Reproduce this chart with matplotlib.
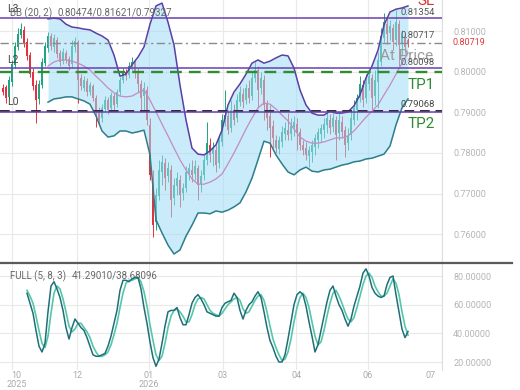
import matplotlib
matplotlib.use("Agg")
import matplotlib.pyplot as plt
import matplotlib.transforms as mtransforms
from matplotlib.lines import Line2D
from matplotlib.ticker import FormatStrFormatter
import numpy as np

plt.rcParams['font.family'] = ['Roboto', 'DejaVu Sans']

# ---------------- data ----------------
opens = [0.7960, 0.7962, 0.7938, 0.7975, 0.8017, 0.8061, 0.8090, 0.8103, 0.8073, 0.8041,
         0.7999, 0.7967, 0.7933, 0.7967, 0.8021, 0.8058, 0.8088, 0.8061, 0.8078, 0.8046,
         0.8026, 0.8046, 0.8031, 0.8019, 0.8061, 0.8073, 0.7985, 0.7960, 0.7977, 0.7950,
         0.7965, 0.7935, 0.7906, 0.7886, 0.7908, 0.7930, 0.7911, 0.7940, 0.7920, 0.7950,
         0.7980, 0.7999, 0.7992, 0.8012, 0.8024, 0.7999, 0.7970, 0.7940, 0.7955, 0.7869,
         0.7738, 0.7630, 0.7694, 0.7753, 0.7775, 0.7743, 0.7758, 0.7689, 0.7719, 0.7733,
         0.7701, 0.7714, 0.7748, 0.7758, 0.7748, 0.7763, 0.7723, 0.7746, 0.7783, 0.7820,
         0.7797, 0.7807, 0.7775, 0.7827, 0.7876, 0.7891, 0.7861, 0.7901, 0.7886, 0.7925,
         0.7945, 0.7930, 0.7960, 0.7940, 0.7985, 0.8004, 0.7960, 0.7980, 0.7920, 0.7891,
         0.7866, 0.7832, 0.7810, 0.7827, 0.7847, 0.7856, 0.7847, 0.7864, 0.7871, 0.7852,
         0.7820, 0.7812, 0.7792, 0.7802, 0.7815, 0.7832, 0.7847, 0.7856, 0.7869, 0.7881,
         0.7864, 0.7881, 0.7849, 0.7876, 0.7856, 0.7824, 0.7844, 0.7881, 0.7906, 0.7935,
         0.7967, 0.7935, 0.7970, 0.7985, 0.7940, 0.7975, 0.8024, 0.8083, 0.8117, 0.8095,
         0.8108, 0.8078, 0.8117, 0.8068, 0.8086, 0.8078]
closes = [0.7950, 0.7935, 0.7980, 0.8019, 0.8063, 0.8093, 0.8105, 0.8068, 0.8039, 0.7994,
          0.7965, 0.7930, 0.7970, 0.8024, 0.8063, 0.8088, 0.8063, 0.8083, 0.8044, 0.8024,
          0.8049, 0.8029, 0.8014, 0.8063, 0.8076, 0.7980, 0.7965, 0.7980, 0.7950, 0.7967,
          0.7935, 0.7901, 0.7881, 0.7911, 0.7930, 0.7906, 0.7943, 0.7918, 0.7950, 0.7980,
          0.7999, 0.7989, 0.8014, 0.8024, 0.7999, 0.7970, 0.7935, 0.7960, 0.7881, 0.7746,
          0.7622, 0.7696, 0.7758, 0.7778, 0.7738, 0.7763, 0.7684, 0.7721, 0.7738, 0.7696,
          0.7714, 0.7753, 0.7763, 0.7746, 0.7768, 0.7721, 0.7743, 0.7783, 0.7824, 0.7795,
          0.7812, 0.7770, 0.7832, 0.7881, 0.7893, 0.7856, 0.7906, 0.7881, 0.7930, 0.7950,
          0.7925, 0.7960, 0.7935, 0.7985, 0.8004, 0.7955, 0.7985, 0.7918, 0.7886, 0.7861,
          0.7837, 0.7812, 0.7832, 0.7852, 0.7861, 0.7844, 0.7866, 0.7876, 0.7852, 0.7820,
          0.7807, 0.7795, 0.7807, 0.7820, 0.7837, 0.7852, 0.7861, 0.7871, 0.7886, 0.7861,
          0.7886, 0.7844, 0.7881, 0.7852, 0.7820, 0.7842, 0.7886, 0.7911, 0.7935, 0.7970,
          0.7930, 0.7975, 0.7989, 0.7935, 0.7980, 0.8029, 0.8088, 0.8122, 0.8093, 0.8113,
          0.8073, 0.8122, 0.8066, 0.8088, 0.8061, 0.80719]
highs = [0.7970, 0.7967, 0.7989, 0.8029, 0.8073, 0.8108, 0.8120, 0.8113, 0.8083, 0.8049,
         0.8009, 0.7980, 0.7980, 0.8034, 0.8073, 0.8098, 0.8095, 0.8093, 0.8086, 0.8053,
         0.8058, 0.8053, 0.8039, 0.8078, 0.8086, 0.8078, 0.7994, 0.7989, 0.7985, 0.7975,
         0.7970, 0.7943, 0.7913, 0.7920, 0.7940, 0.7938, 0.7950, 0.7948, 0.7957, 0.7987,
         0.8009, 0.8007, 0.8024, 0.8036, 0.8029, 0.8009, 0.7980, 0.7975, 0.7965, 0.7886,
         0.7758, 0.7714, 0.7783, 0.7795, 0.7787, 0.7778, 0.7770, 0.7738, 0.7753, 0.7746,
         0.7726, 0.7768, 0.7775, 0.7783, 0.7783, 0.7770, 0.7758, 0.7795, 0.7876, 0.7837,
         0.7827, 0.7820, 0.7844, 0.7896, 0.7955, 0.7906, 0.7930, 0.7920, 0.7945, 0.7965,
         0.7960, 0.7970, 0.7980, 0.7999, 0.8024, 0.8014, 0.7999, 0.7992, 0.7930, 0.7918,
         0.7881, 0.7844, 0.7842, 0.7866, 0.7876, 0.7898, 0.7886, 0.7891, 0.7886, 0.7861,
         0.7832, 0.7827, 0.7817, 0.7832, 0.7847, 0.7861, 0.7871, 0.7886, 0.7901, 0.7896,
         0.7901, 0.7891, 0.7901, 0.7891, 0.7866, 0.7861, 0.7906, 0.7930, 0.7945, 0.7989,
         0.7980, 0.7994, 0.8004, 0.7994, 0.8004, 0.8049, 0.8108, 0.8145, 0.8132, 0.8127,
         0.8117, 0.8152, 0.8127, 0.8103, 0.8095, 0.8083]
lows = [0.7943, 0.7923, 0.7933, 0.7965, 0.8009, 0.8053, 0.8083, 0.8061, 0.8029, 0.7987,
        0.7955, 0.7874, 0.7920, 0.7960, 0.8014, 0.8049, 0.8053, 0.8049, 0.8034, 0.8014,
        0.8019, 0.8021, 0.8004, 0.8009, 0.8049, 0.7923, 0.7955, 0.7952, 0.7940, 0.7943,
        0.7928, 0.7864, 0.7869, 0.7876, 0.7901, 0.7896, 0.7903, 0.7901, 0.7913, 0.7943,
        0.7972, 0.7980, 0.7985, 0.8004, 0.7985, 0.7950, 0.7901, 0.7906, 0.7869, 0.7733,
        0.7593, 0.7610, 0.7684, 0.7721, 0.7709, 0.7728, 0.7642, 0.7672, 0.7696, 0.7667,
        0.7684, 0.7704, 0.7733, 0.7728, 0.7733, 0.7684, 0.7704, 0.7733, 0.7770, 0.7778,
        0.7768, 0.7753, 0.7763, 0.7817, 0.7866, 0.7847, 0.7852, 0.7869, 0.7876, 0.7916,
        0.7911, 0.7920, 0.7923, 0.7930, 0.7975, 0.7911, 0.7945, 0.7881, 0.7856, 0.7790,
        0.7812, 0.7800, 0.7797, 0.7815, 0.7832, 0.7832, 0.7832, 0.7842, 0.7807, 0.7807,
        0.7795, 0.7783, 0.7765, 0.7778, 0.7795, 0.7812, 0.7827, 0.7837, 0.7849, 0.7847,
        0.7852, 0.7783, 0.7832, 0.7837, 0.7790, 0.7807, 0.7832, 0.7869, 0.7881, 0.7925,
        0.7913, 0.7923, 0.7955, 0.7906, 0.7918, 0.7911, 0.8014, 0.8073, 0.8068, 0.8078,
        0.8053, 0.8063, 0.8014, 0.8041, 0.8046, 0.8061]

# Bollinger band (20, 2), one value every second bar
bb_upper = [0.8130, 0.8132, 0.8130, 0.8117, 0.8110, 0.8108, 0.8105, 0.8103, 0.8095, 0.8088,
            0.8078, 0.8041, 0.7989, 0.7994, 0.8017, 0.8036, 0.8061, 0.8117, 0.8162, 0.8169,
            0.8122, 0.8066, 0.7967, 0.7881, 0.7812, 0.7797, 0.7795, 0.7805, 0.7820, 0.7856,
            0.7918, 0.7950, 0.7970, 0.7994, 0.8021, 0.8029, 0.8021, 0.8026, 0.8034, 0.8041,
            0.8039, 0.8009, 0.7955, 0.7918, 0.7898, 0.7893, 0.7893, 0.7903, 0.7898, 0.7898,
            0.7901, 0.7916, 0.7943, 0.7985, 0.8014, 0.8053, 0.8115, 0.8147, 0.8154, 0.8157,
            0.8162]
bb_mid = [0.8014, 0.8024, 0.8029, 0.8029, 0.8026, 0.8021, 0.8014, 0.8004, 0.7989, 0.7975,
          0.7960, 0.7948, 0.7940, 0.7938, 0.7940, 0.7948, 0.7955, 0.7930, 0.7901, 0.7871,
          0.7842, 0.7812, 0.7783, 0.7758, 0.7736, 0.7723, 0.7723, 0.7728, 0.7736, 0.7748,
          0.7773, 0.7800, 0.7829, 0.7859, 0.7886, 0.7911, 0.7923, 0.7920, 0.7908, 0.7893,
          0.7879, 0.7859, 0.7839, 0.7829, 0.7824, 0.7824, 0.7827, 0.7832, 0.7837, 0.7837,
          0.7842, 0.7854, 0.7871, 0.7888, 0.7903, 0.7918, 0.7943, 0.7967, 0.7994, 0.8021,
          0.8046]
bb_lower = [0.7925, 0.7933, 0.7935, 0.7938, 0.7938, 0.7933, 0.7928, 0.7920, 0.7891, 0.7854,
            0.7839, 0.7842, 0.7854, 0.7854, 0.7849, 0.7852, 0.7856, 0.7795, 0.7635, 0.7603,
            0.7573, 0.7551, 0.7561, 0.7595, 0.7622, 0.7652, 0.7652, 0.7650, 0.7657, 0.7654,
            0.7659, 0.7667, 0.7677, 0.7704, 0.7738, 0.7783, 0.7829, 0.7824, 0.7795, 0.7773,
            0.7753, 0.7746, 0.7758, 0.7765, 0.7755, 0.7753, 0.7758, 0.7760, 0.7765, 0.7770,
            0.7773, 0.7778, 0.7780, 0.7785, 0.7787, 0.7792, 0.7797, 0.7817, 0.7869, 0.7911,
            0.7933]

# Full stochastic (5, 8, 3)
stoch_k = [68, 61, 54, 42, 31, 27, 33, 55, 73, 76, 71, 65, 56, 44, 36, 44, 50, 47, 44, 42,
           37, 31, 25, 24, 24, 25, 26, 31, 38, 47, 56, 70, 77, 77, 76, 78, 79, 79, 71, 58,
           47, 34, 23, 17, 22, 33, 45, 55, 56, 56, 58, 51, 46, 46, 53, 61, 65, 67, 64, 60,
           55, 54, 53, 52, 52, 58, 61, 62, 63, 68, 65, 56, 50, 56, 60, 62, 66, 69, 65, 55,
           44, 35, 30, 24, 20, 20, 25, 36, 48, 60, 67, 69, 67, 59, 48, 38, 27, 32, 42, 52,
           62, 70, 73, 66, 60, 56, 50, 45, 50, 59, 66, 73, 82, 85, 80, 72, 68, 66, 65, 66,
           74, 79, 80, 67, 55, 43, 37, 41.29]
stoch_d = [70, 66, 61, 52, 42, 33, 30, 38, 54, 68, 73, 71, 64, 55, 45, 41, 43, 47, 47, 44,
           41, 37, 31, 27, 24, 24, 25, 27, 32, 39, 47, 58, 68, 75, 77, 77, 78, 79, 76, 69,
           59, 46, 35, 25, 21, 24, 33, 44, 52, 56, 57, 55, 52, 48, 48, 53, 60, 64, 65, 64,
           60, 56, 54, 53, 52, 54, 57, 60, 62, 64, 65, 63, 57, 54, 55, 59, 63, 66, 67, 63,
           55, 45, 36, 30, 25, 21, 22, 27, 36, 48, 58, 65, 68, 65, 58, 48, 38, 32, 34, 42,
           52, 61, 68, 70, 66, 61, 55, 50, 48, 51, 58, 66, 74, 80, 82, 79, 73, 69, 66, 66,
           68, 73, 78, 75, 67, 55, 45, 38.68]

# horizontal levels
level_L3 = 0.8132
level_ref = 0.80717
level_L2 = 0.8008
level_TP1 = 0.8000
level_TP2 = 0.7903
level_L0 = 0.7900

main_ticks = [0.76, 0.77, 0.78, 0.79, 0.80, 0.81]
osc_ticks = [20, 40, 60, 80]
month_grid = [2.9, 24.57, 48.67, 73.23, 97.67, 121.67, 146.23]
month_label_pos = [4.5, 24.67, 48.67, 73.17, 98.0, 121.67, 142.4]
month_labels = ["10", "12", "01", "03", "04", "06", "07"]
year_labels = ["2025", "", "2026", "", "", "", ""]

# ---------------- figure ----------------
W, H = 520, 390
fig = plt.figure(figsize=(W / 100, H / 100), dpi=100)
ax = fig.add_axes([0, 1 - 262 / H, 442 / W, 262 / H])
ax2 = fig.add_axes([0, 1 - 370 / H, 442 / W, (370 - 263) / H], sharex=ax)

o = np.array(opens); c = np.array(closes)
hi = np.array(highs); lo = np.array(lows)
bx = np.arange(len(c))
UP, DN = '#20a482', '#e3323f'
cols = np.where(c >= o, UP, DN)
ax.vlines(bx, lo, hi, colors=cols, lw=0.7, zorder=2)
ax.bar(bx, np.maximum(np.abs(c - o), 0.00005), bottom=np.minimum(o, c), width=0.55,
       color=cols, linewidth=0, zorder=2)

band_x = np.arange(len(c) - 2 * len(bb_upper) + 1, len(c), 2)
ax.fill_between(band_x, bb_lower, bb_upper, color='#9fdcf5', alpha=0.55, lw=0, zorder=3)
ax.plot(band_x, bb_upper, color='#5a3fa6', lw=1.1, zorder=4)
ax.plot(band_x, bb_lower, color='#2e7e8c', lw=1.1, zorder=4)
ax.plot(band_x, bb_mid, color='#c28cc4', lw=0.9, zorder=4)

ax.axhline(level_L3, color='#6a40b0', lw=1.1, zorder=5)
ax.axhline(level_ref, color='#8a8a8a', lw=1.0, ls=(0, (6, 2.5, 1.5, 2.5)), zorder=5)
ax.axhline(level_L2, color='#6a40b0', lw=1.1, zorder=5)
ax.axhline(level_TP1, color='#2f8f2f', lw=1.7, ls=(0, (5, 3)), zorder=5)
ax.axhline(level_TP2, color='#2b2b2b', lw=1.4, ls=(0, (5, 3)), zorder=5)
ax.axhline(level_L0, color='#6a40b0', lw=1.1, zorder=5)

def px2i(px):
    return (px - 3) / 3.0

ax.set_xlim(px2i(0), px2i(442))
ax.set_ylim(0.75313, 0.81766)
ax.set_xticks(month_grid)
ax.set_yticks(main_ticks)
ax.yaxis.tick_right()
ax.yaxis.set_major_formatter(FormatStrFormatter('%.5f'))
ax.tick_params(axis='y', length=0, pad=8, labelsize=6.5, labelcolor='#b4b4b4')
ax.tick_params(axis='x', length=0, labelbottom=False)
ax.grid(True, color='#e9e9e9', lw=0.8)
ax.set_axisbelow(True)
for s in ['top', 'left', 'bottom']:
    ax.spines[s].set_visible(False)
ax.spines['right'].set_color('#dedede')

tt = dict(zorder=7, va='center', ha='left')
ax.text(px2i(7), 0.8154, 'L3', fontsize=7.5, color='#444444', **tt)
ax.text(px2i(10), 0.8145, 'BB (20, 2)', fontsize=7, color='#666666', **tt)
ax.text(px2i(58), 0.8145, '0.80474/0.81621/0.79327', fontsize=7, color='#666666', **tt)
ax.text(px2i(7), 0.8029, 'L2', fontsize=7.5, color='#444444', **tt)
ax.text(px2i(7), 0.7925, 'L0', fontsize=7.5, color='#444444', **tt)

ax.text(px2i(417), 0.8174, 'SL', fontsize=11, color='#d93030', **tt)
ax.text(px2i(401), 0.8146, '0.81354', fontsize=6.8, color='#555555', **tt)
ax.text(px2i(401), 0.8088, '0.80717', fontsize=6.8, color='#555555', **tt)
ax.text(px2i(380), 0.8039, 'At Price', fontsize=11, color='#9a9a9a', **tt)
ax.text(px2i(401), 0.8022, '0.80098', fontsize=6.8, color='#555555', **tt)
ax.text(px2i(408), 0.7967, 'TP1', fontsize=11, color='#2d8c2d', **tt)
ax.text(px2i(401), 0.7918, '0.79068', fontsize=6.8, color='#444444', **tt)
ax.text(px2i(408), 0.7871, 'TP2', fontsize=11, color='#2d8c2d', **tt)

tr = mtransforms.blended_transform_factory(ax.transAxes, ax.transData)
ax.text(1 + 11 / 442, c[-1], '0.80719', transform=tr, fontsize=6.5, color='#e03a3a',
        va='center', ha='left', clip_on=False)

# ---------------- oscillator ----------------
sx = np.arange(len(c) - len(stoch_k), len(c))
ax2.plot(sx, stoch_d, color='#55c7a9', lw=1.2, zorder=3)
ax2.plot(sx, stoch_k, color='#1f6f78', lw=1.1, zorder=4)
ax2.set_ylim(14.42, 89.07)
ax2.set_yticks(osc_ticks)
ax2.yaxis.tick_right()
ax2.yaxis.set_major_formatter(FormatStrFormatter('%.5f'))
ax2.tick_params(axis='y', length=0, pad=8, labelsize=6.5, labelcolor='#b4b4b4')
ax2.tick_params(axis='x', length=0, labelbottom=False)
ax2.grid(True, color='#e9e9e9', lw=0.8)
ax2.set_axisbelow(True)
for s in ['top', 'left', 'bottom']:
    ax2.spines[s].set_visible(False)
ax2.spines['right'].set_color('#dedede')

tr2 = mtransforms.blended_transform_factory(ax2.transData, ax2.transAxes)
ax2.text(px2i(10), 0.88, 'FULL (5, 8, 3)', transform=tr2, fontsize=7, color='#666666',
         va='center', ha='left')
ax2.text(px2i(72), 0.88, '41.29010/38.68096', transform=tr2, fontsize=7, color='#666666',
         va='center', ha='left')
for xp, ml, yl in zip(month_label_pos, month_labels, year_labels):
    ax2.text(xp, -0.056, ml, transform=tr2, fontsize=6.5, color='#aaaaaa',
             ha='center', va='center', clip_on=False)
    if yl:
        ax2.text(xp, -0.140, yl, transform=tr2, fontsize=6.5, color='#aaaaaa',
                 ha='center', va='center', clip_on=False)

fig.add_artist(Line2D([0, 512 / W], [1 - 262.5 / H] * 2, color='#5a5a5a', lw=1.6))

fig.savefig('out.png', dpi=100)
